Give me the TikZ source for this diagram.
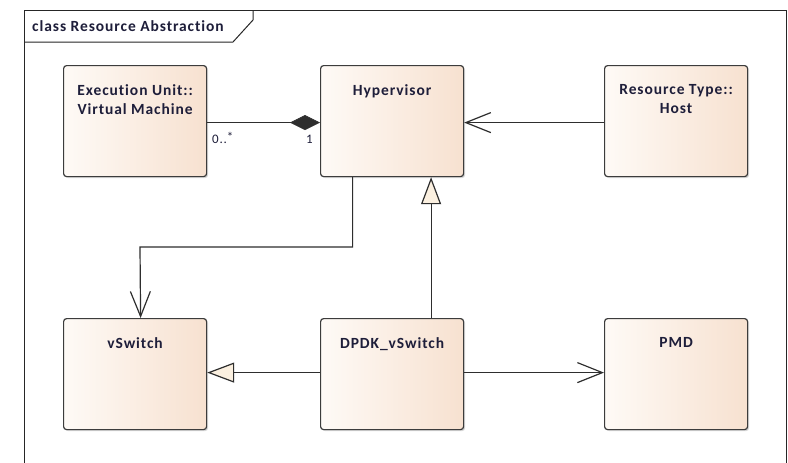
\documentclass[tikz,border=0pt]{standalone}
\usepackage{fontspec}
\setmainfont{Carlito}
\usetikzlibrary{arrows.meta,shadows,calc}
\definecolor{boxleft}{HTML}{FEFAF6}
\definecolor{boxright}{HTML}{F7E1D0}
\definecolor{boxline}{HTML}{3C3C3C}
\definecolor{txt}{HTML}{1E1E3A}
\definecolor{genfill}{HTML}{FBF0E0}
\definecolor{wire}{HTML}{2E2E2E}
\newfontfamily\eafont[LetterSpace=6,Ligatures=NoCommon]{Carlito}
\begin{document}
\begin{tikzpicture}[x=1pt,y=-1pt,
  classbox/.style={draw=boxline, line width=1.2pt, rounded corners=3pt,
    left color=boxleft, right color=boxright,
    minimum width=143pt, minimum height=111pt, anchor=north west,
    inner sep=0pt, drop shadow={shadow xshift=1.5pt, shadow yshift=-1.5pt, opacity=0.25, fill=black!60}},
  classname/.style={font=\eafont\bfseries\fontsize{15.5}{19}\selectfont, text=txt,
    align=center, anchor=north, inner sep=0pt},
  wireline/.style={draw=wire, line width=1.2pt},
  assoc/.style={wireline, -{Straight Barb[length=25pt,width=20pt,line width=1.2pt]}},
  gen/.style={wireline, -{Triangle[length=27pt,width=20pt,fill=genfill,line width=1.2pt]}},
  comp/.style={wireline, -{Diamond[length=30pt,width=15pt,line width=0.5pt]}},
  mult/.style={font=\eafont\fontsize{13}{15}\selectfont, text=txt, inner sep=0pt}]
\useasboundingbox (0,0) rectangle (788,463);
\fill[white] (0,0) rectangle (788,463);

% diagram frame with its name tab
\draw[line width=1pt, draw=black!85] (24,470) -- (24,10) -- (786,10) -- (786,470);
\draw[line width=1pt, draw=black!85] (24,42) -- (233,42) -- (253,20) -- (253,10);
\node[font=\eafont\bfseries\fontsize{15.5}{18}\selectfont, text=txt, anchor=west, inner sep=0pt]
  (title) at (32,26) {class Resource Abstraction};

% classes
\node[classbox] (vm)   at (63,65)  {};
\node[classbox] (hyp)  at (320,65) {};
\node[classbox] (host) at (604,65) {};
\node[classbox] (vsw)  at (63,318) {};
\node[classbox] (dpdk) at (320,318) {};
\node[classbox] (pmd)  at (604,318) {};

\node[classname] (vmname)   at ([yshift=-19pt]vm.north)   {Execution Unit::\\Virtual Machine};
\node[classname] (hypname)  at ([yshift=-19pt]hyp.north)  {Hypervisor};
\node[classname] (hostname) at ([yshift=-19pt]host.north) {Resource Type::\\Host};
\node[classname] (vswname)  at ([yshift=-19pt]vsw.north)  {vSwitch};
\node[classname] (dpdkname) at ([yshift=-19pt]dpdk.north) {DPDK\_vSwitch};
\node[classname] (pmdname)  at ([yshift=-19pt]pmd.north)  {PMD};

% relations
\draw[comp] ([yshift=-1.5pt]vm.east) -- ([yshift=-1.5pt]hyp.west);
\node[mult, anchor=west] (mmany) at (212,138) {0..\raisebox{1.5pt}{*}};
\node[mult, anchor=west] (mone)  at (306,139) {1};

\draw[assoc] ([yshift=-1.5pt]host.west) -- ([yshift=-1.5pt]hyp.east);

\coordinate (bend) at (140,247);
\draw[assoc] ([xshift=-39.5pt]hyp.south) |- (bend) -- ([xshift=5.5pt]vsw.north);

\draw[gen] ([xshift=39pt]dpdk.north) -- ([xshift=39pt]hyp.south);
\draw[gen] ([yshift=1.5pt]dpdk.west) -- ([yshift=1.5pt]vsw.east);
\draw[assoc] ([yshift=1.5pt]dpdk.east) -- ([yshift=1.5pt]pmd.west);
\end{tikzpicture}
\end{document}
